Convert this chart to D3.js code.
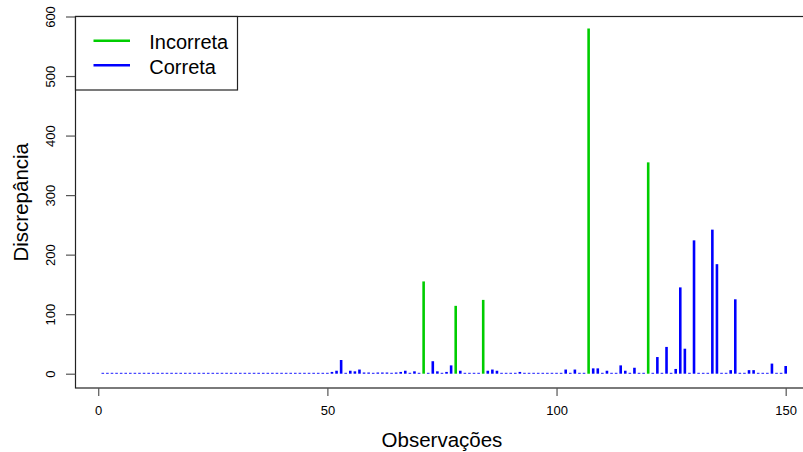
<!DOCTYPE html>
<html>
<head>
<meta charset="utf-8">
<script src="https://cdn.jsdelivr.net/npm/d3@7"></script>
<style>
    body { margin: 0; background: #fff; }
    text { font-family: "Liberation Sans", Arial, sans-serif; fill: #000; }
</style>
</head>
<body>
<script>
// discrepancy per observation (1..150)
var discrepancia = [
    1.5, 1.5, 1.5, 1.5, 1.5, 1.5, 1.5, 1.5, 1.5, 1.5,
    1.5, 1.5, 1.5, 1.5, 1.5, 1.5, 1.5, 1.5, 1.5, 1.5,
    1.5, 1.5, 1.5, 1.5, 1.5, 1.5, 1.5, 1.5, 1.5, 1.5,
    1.5, 1.5, 1.5, 1.5, 1.5, 1.5, 1.5, 1.5, 1.5, 1.5,
    1.5, 1.5, 1.5, 1.5, 1.5, 1.5, 1.5, 1.5, 1.5, 1.5,
    3, 5, 23, 1.5, 5, 4, 7, 2, 2, 1.5,
    2, 2, 2, 1.5, 2, 3, 5, 1.5, 4, 1.5,
    155, 1.5, 21, 4, 1.5, 3, 14, 114, 5, 1.5,
    1.5, 1.5, 1.5, 124, 5, 7, 5, 1.5, 1.5, 1.5,
    1.5, 3, 1.5, 1.5, 1.5, 1.5, 1.5, 1.5, 1.5, 1.5,
    1.5, 7, 1.5, 7, 1.5, 1.5, 580, 9, 9, 1.5,
    5, 1.5, 1.5, 14, 5, 1.5, 10, 1.5, 1.5, 355,
    1.5, 28, 1.5, 45, 1.5, 8, 145, 42, 1.5, 224,
    1.5, 1.5, 1.5, 242, 184, 1.5, 1.5, 6, 125, 1.5,
    1.5, 6, 6, 1.5, 1.5, 1.5, 17, 1.5, 1.5, 13
];
// observations classified wrongly
var incorretas = [71, 78, 84, 107, 120];
var xTicks = [0, 50, 100, 150];
var yTicks = [0, 100, 200, 300, 400, 500, 600];
var legendLabels = ["Incorreta", "Correta"];
var legendColors = ["#00cd00", "#0000ff"];

var width = 803, height = 452;
var margin = {top: 16.5, right: -10, bottom: 64, left: 75.5};
var plotW = width - margin.left - margin.right,
    plotH = height - margin.top - margin.bottom;

var data = discrepancia.map(function (v, i) {
    return {obs: i + 1, value: v, wrong: incorretas.indexOf(i + 1) >= 0};
});

var x = d3.scaleLinear()
    .domain([1 - 5.96, 150 + 5.96])
    .range([0, plotW]);

var y = d3.scaleLinear()
    .domain([-24, 600])
    .range([plotH, 0]);

var svg = d3.select("body").append("svg")
    .attr("width", width)
    .attr("height", height)
    .append("g")
    .attr("transform", "translate(" + margin.left + "," + margin.top + ")");

// spikes (type = "h")
svg.append("g").selectAll("line")
    .data(data)
    .enter().append("line")
    .attr("x1", function (d) { return x(d.obs); })
    .attr("x2", function (d) { return x(d.obs); })
    .attr("y1", y(0))
    .attr("y2", function (d) { return y(d.value); })
    .attr("stroke", function (d) { return d.wrong ? legendColors[0] : legendColors[1]; })
    .attr("stroke-width", 2.6);

// box
svg.append("rect")
    .attr("width", plotW)
    .attr("height", plotH)
    .attr("fill", "none")
    .attr("stroke", "#222")
    .attr("stroke-width", 1.2);

// x axis
var xAxis = d3.axisBottom(x).tickValues(xTicks).tickSize(8).tickPadding(10);
var gx = svg.append("g")
    .attr("transform", "translate(0," + plotH + ")")
    .call(xAxis);
gx.select(".domain").remove();
gx.selectAll("line").attr("stroke", "#555").attr("stroke-width", 1.2);
gx.selectAll("text").attr("font-size", 13).style("font-family", "'Liberation Sans', Arial, sans-serif");

// y axis, labels parallel to the axis
var yAxis = d3.axisLeft(y).tickValues(yTicks).tickSize(9.5).tickPadding(0);
var gy = svg.append("g").call(yAxis);
gy.select(".domain").remove();
gy.selectAll("line").attr("stroke", "#555").attr("stroke-width", 1.2);
gy.selectAll("text")
    .attr("x", null).attr("dy", null)
    .attr("text-anchor", "middle")
    .attr("transform", "translate(-19,0) rotate(-90)")
    .attr("y", 0)
    .attr("dy", "-0.1em")
    .attr("font-size", 13)
    .style("font-family", "'Liberation Sans', Arial, sans-serif");

// axis titles
svg.append("text")
    .attr("x", x(75))
    .attr("y", plotH + 59)
    .attr("text-anchor", "middle")
    .attr("font-size", 20.5)
    .text("Observações");

svg.append("text")
    .attr("transform", "translate(" + (-48) + "," + (plotH / 2) + ") rotate(-90)")
    .attr("text-anchor", "middle")
    .attr("font-size", 20.5)
    .text("Discrepância");

// legend (topleft)
var legend = svg.append("g");
legend.append("rect")
    .attr("width", 162)
    .attr("height", 73.5)
    .attr("fill", "#fff")
    .attr("stroke", "#222")
    .attr("stroke-width", 1.2);

var item = legend.selectAll("g.item")
    .data(legendLabels)
    .enter().append("g")
    .attr("class", "item")
    .attr("transform", function (d, i) { return "translate(0," + (24.2 + i * 24.6) + ")"; });

item.append("line")
    .attr("x1", 18).attr("x2", 54.5)
    .attr("stroke", function (d, i) { return legendColors[i]; })
    .attr("stroke-width", 2.6);

item.append("text")
    .attr("x", 73.8)
    .attr("y", 8.6)
    .attr("font-size", 20)
    .text(function (d) { return d; });
</script>
</body>
</html>
